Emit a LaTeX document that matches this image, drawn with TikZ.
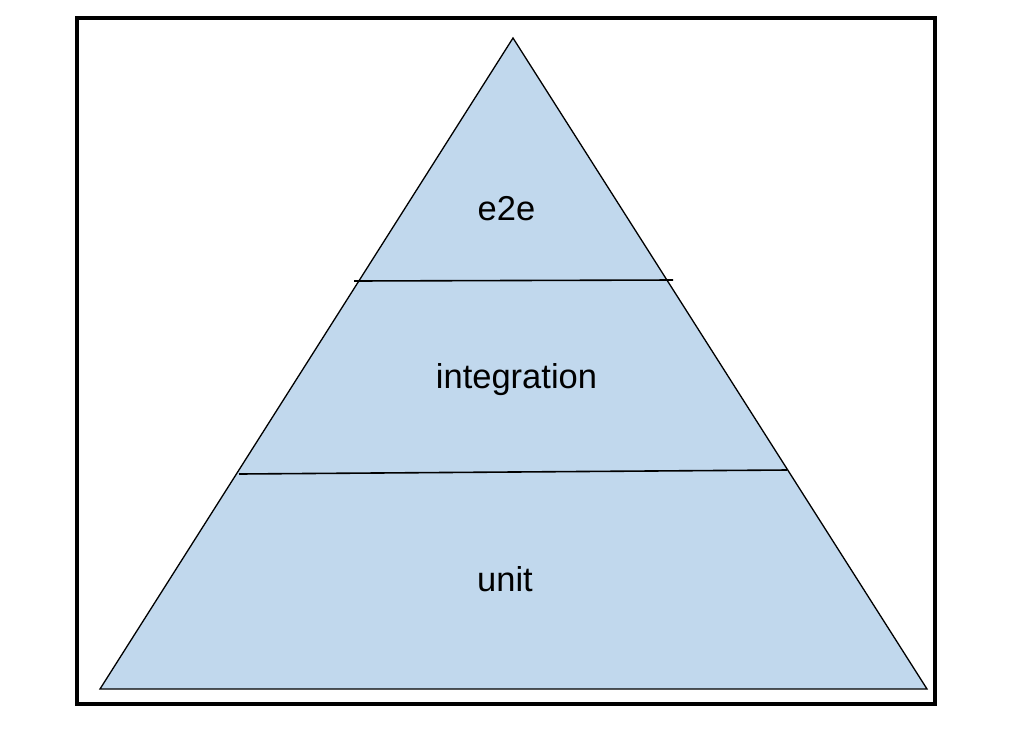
\documentclass[tikz,border=0pt]{standalone}
\usepackage{fontspec}
\setmainfont{Liberation Sans}
\definecolor{layerfill}{HTML}{C1D8ED}
\begin{document}
\begin{tikzpicture}[x=1pt,y=-1pt,
  frame/.style={draw=black,line width=4pt},
  pyr/.style={draw=black,fill=layerfill,line width=1.3pt,line join=miter},
  sep/.style={draw=black,line width=1.6pt},
  lbl/.style={font=\fontsize{34.5}{40}\selectfont,text=black,inner sep=0pt,anchor=base}]
\useasboundingbox (0,0) rectangle (1016,737);
\draw[frame] (77,18) rectangle (935,704);
\coordinate (apex) at (513,38);
\coordinate (bl) at (100,689);
\coordinate (br) at (927,689);
\draw[pyr] (apex) -- (br) -- (bl) -- cycle;
\coordinate (s1l) at (354,281);
\coordinate (s1r) at (673,280);
\coordinate (s2l) at (239,474);
\coordinate (s2r) at (787,470);
\draw[sep] (s1l) -- (s1r);
\draw[sep] (s2l) -- (s2r);
\node[lbl] (e2e) at (506.5,220.5) {e2e};
\node[lbl] (integ) at (516.5,388) {integration};
\node[lbl] (unit) at (505,591) {unit};
\end{tikzpicture}
\end{document}
